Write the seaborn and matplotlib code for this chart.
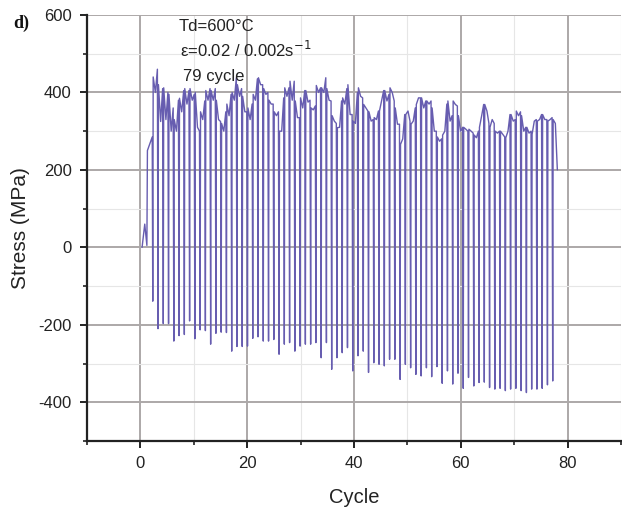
import numpy as np
import pandas as pd
import matplotlib
matplotlib.use("Agg")
import matplotlib.pyplot as plt
from matplotlib.ticker import MultipleLocator
import seaborn as sns

# start of the test, before the first full cycle
start_cycle = [0.3, 0.8, 1.2, 1.3, 2.2]
start_stress = [0, 60, 5, 250, 285]

# per cycle: compressive minimum, peak just after reversal, mid dip, late value
cycle_min = [-139, -210, -197, -197, -242, -228, -225, -190, -236, -213, -215, -250, -222,
             -219, -220, -268, -256, -256, -255, -235, -231, -242, -242, -238, -276,
             -250, -246, -268, -255, -250, -250, -246, -285, -246, -315, -285, -272, -259,
             -319, -280, -268, -323, -298, -302, -306, -289, -289, -341, -302, -311, -328,
             -332, -311, -334, -308, -351, -319, -353, -325, -364, -336, -358, -349, -348,
             -362, -366, -364, -370, -366, -364, -370, -375, -366, -366, -364, -355, -345]
cycle_peak = [440, 420, 412, 395, 330, 385, 410, 410, 400, 350, 405, 405, 380, 320, 370,
              400, 420, 390, 360, 395, 438, 410, 380, 350,
              300, 412, 429, 378, 386, 405, 360, 418, 412, 410, 340, 309, 386, 420, 326,
              412, 369, 350, 335, 352, 405, 412, 360, 266, 343, 318, 369, 386,
              378, 360, 285, 290, 378, 378, 340, 310, 305, 290, 310, 369, 310, 300, 300,
              283, 343, 352, 340, 310, 292, 326, 343, 326, 330]
cycle_dip = [400, 325, 330, 300, 300, 350, 370, 380, 310, 330, 380, 380, 330, 300, 340,
             380, 390, 350, 330, 380, 420, 395, 370, 340,
             300, 390, 380, 335, 360, 375, 355, 400, 400, 380, 326, 310, 370, 343, 320,
             390, 360, 326, 330, 380, 378, 400, 318, 280, 352, 326, 386, 360,
             370, 300, 274, 300, 326, 369, 300, 305, 300, 283, 340, 352, 330, 295, 292,
             300, 326, 340, 300, 295, 326, 330, 330, 330, 320]
cycle_late = [460, 410, 400, 360, 380, 405, 405, 395, 300, 378, 410, 410, 325, 350, 395,
              438, 410, 350, 370, 435, 420, 400, 370, 350,
              386, 412, 429, 335, 405, 380, 365, 412, 438, 378, 320, 378, 410, 343, 400,
              386, 352, 330, 352, 405, 395, 378, 318, 343, 326, 360, 386, 378,
              378, 300, 280, 370, 340, 365, 310, 300, 295, 300, 369, 320, 320, 300, 285,
              343, 330, 350, 310, 300, 330, 343, 330, 335, 200]
first_reversal = 2.3
last_reversal = 77.2

rev = np.linspace(first_reversal, last_reversal, len(cycle_min))
step = rev[1] - rev[0]
xs = list(start_cycle)
ys = list(start_stress)
for i, t in enumerate(rev):
    xs += [t, t + 0.08 * step, t + 0.5 * step, t + 0.88 * step]
    ys += [cycle_min[i], cycle_peak[i], cycle_dip[i], cycle_late[i]]
df = pd.DataFrame({"Cycle": xs, "Stress": ys})

sns.set_style("white")
plt.rcParams["font.family"] = ["Liberation Sans", "DejaVu Sans"]
plt.rcParams["axes.unicode_minus"] = False

fig = plt.figure(figsize=(6.22, 5.12), dpi=100)
ax = fig.add_axes([0.14, 0.1387, 0.8585, 0.832])

sns.lineplot(data=df, x="Cycle", y="Stress", sort=False, estimator=None,
             color="#675db0", linewidth=1.0, ax=ax)

ax.set_xlim(-10, 90)
ax.set_ylim(-500, 600)
ax.xaxis.set_major_locator(MultipleLocator(20))
ax.xaxis.set_minor_locator(MultipleLocator(10))
ax.yaxis.set_major_locator(MultipleLocator(200))
ax.yaxis.set_minor_locator(MultipleLocator(100))
ax.grid(which="major", color="#aca8a8", linewidth=1.4)
ax.grid(which="minor", color="#e6e6e6", linewidth=0.8)
ax.set_axisbelow(True)

for side in ["top", "right"]:
    ax.spines[side].set_visible(False)
for side in ["left", "bottom"]:
    ax.spines[side].set_color("#222222")
    ax.spines[side].set_linewidth(1.6)
ax.tick_params(which="major", direction="out", length=5, width=1.4, color="#222222",
               labelsize=12, labelcolor="#222222", left=True, bottom=True, pad=6)
ax.tick_params(which="minor", direction="out", length=3, width=1.2, color="#222222",
               left=True, bottom=True)

ax.set_xlabel("Cycle", fontsize=14.5, color="#222222", labelpad=12)
ax.set_ylabel("Stress (MPa)", fontsize=15, color="#222222", labelpad=6)

ax.text(7.1, 570, "Td=600°C", fontsize=12, color="#222222", va="center")
ax.text(7.4, 511, r"ε=0.02 / 0.002s$^{-1}$", fontsize=12, color="#222222", va="center")
ax.text(8.0, 442, "79 cycle", fontsize=12, color="#222222", va="center")
fig.text(0.022, 0.955, "d)", fontsize=13, fontweight="bold", family="Liberation Serif",
         color="#111111", va="center")

fig.savefig("out.png", dpi=100)
